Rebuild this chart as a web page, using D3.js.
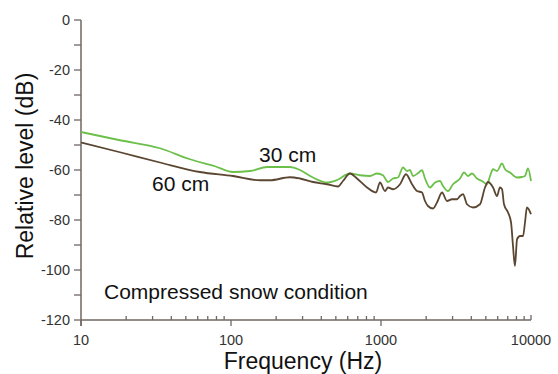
<!DOCTYPE html>
<html>
<head>
<meta charset="utf-8">
<script src="https://cdn.jsdelivr.net/npm/d3@7"></script>
<style>
  body { margin: 0; background: #fff; }
  svg { display: block; font-family: "Liberation Sans", Arial, sans-serif; }
</style>
</head>
<body>
<script>
// 30 cm curve (green)
const freq30 = [10, 18.2, 33.6, 53.3, 78.2, 103, 134, 174, 247, 288, 352, 437, 509, 621, 724, 845, 940, 1031,
  1114, 1202, 1298, 1402, 1490, 1561, 1634, 1765, 1876, 1965, 2122, 2291, 2474, 2591, 2798, 3020, 3365,
  3575, 3802, 4045, 4365, 4713, 5093, 5333, 5585, 5932, 6412, 6714, 7244, 8072, 8710, 9120, 9550, 10000];
const level30 = [-44.8, -48.1, -51.3, -55.7, -58.5, -60.8, -60.4, -58.8, -58.8, -60.0, -63.0, -65.0, -64.0, -61.4, -62.1, -62.4, -61.4, -62.1,
  -64.8, -63.4, -63.0, -59.0, -60.4, -60.0, -62.4, -61.3, -60.1, -63.4, -67.0, -65.0, -64.4, -66.4, -68.4, -65.7, -63.4,
  -61.0, -62.4, -61.4, -63.4, -64.4, -65.7, -62.4, -59.7, -60.4, -57.4, -59.7, -61.0, -63.0, -62.8, -62.4, -59.4, -64.4];

// 60 cm curve (brown)
const freq60 = [10, 18.2, 33.6, 62.1, 103, 156, 182, 247, 288, 352, 437, 517, 558, 621, 692, 807, 926, 985,
  1063, 1114, 1202, 1339, 1468, 1610, 1738, 1876, 1965, 2057, 2222, 2362, 2552, 2754, 2973, 3211, 3365, 3522,
  3744, 4105, 4571, 4936, 5164, 5585, 5932, 6209, 6412, 6607, 7031, 7362, 7586, 7816, 8072, 8453, 8851, 9120, 9397, 10000];
const level60 = [-49.0, -52.9, -57.0, -60.8, -62.4, -64.1, -64.1, -62.9, -63.4, -64.8, -65.7, -66.6, -64.4, -61.4, -63.4, -67.0, -69.0, -65.0,
  -68.4, -67.0, -67.7, -65.7, -61.7, -65.7, -68.4, -69.0, -72.4, -74.4, -75.4, -73.0, -69.0, -72.4, -71.7, -71.7, -70.4, -69.7,
  -73.7, -75.0, -73.7, -67.0, -64.8, -67.0, -70.4, -67.0, -67.7, -73.7, -77.0, -81.0, -90.4, -98.4, -87.7, -86.4, -86.4, -81.0, -75.0, -77.7];

const xTicks = [10, 100, 1000, 10000];
const yTicks = [0, -20, -40, -60, -80, -100, -120];

const width = 558, height = 374;
const axisColor = "#6f6762";

const svg = d3.select("body").append("svg")
  .attr("width", width)
  .attr("height", height);

const x = d3.scaleLog().domain([10, 10000]).range([81, 531]);
const y = d3.scaleLinear().domain([-120, 0]).range([320, 20]);

// y axis: labelled ticks every 20, minor every 10
const yMinor = d3.range(-110, 0, 20);
svg.append("g")
  .selectAll("line")
  .data(yTicks.concat(yMinor))
  .join("line")
  .attr("x1", 74).attr("x2", 81)
  .attr("y1", d => y(d)).attr("y2", d => y(d))
  .attr("stroke", axisColor).attr("stroke-width", 1.3);

svg.append("g")
  .selectAll("text")
  .data(yTicks)
  .join("text")
  .attr("x", 70)
  .attr("y", d => y(d))
  .attr("dy", "0.35em")
  .attr("text-anchor", "end")
  .attr("font-size", 14.5)
  .attr("fill", "#333")
  .text(d => d);

// x axis: decades labelled, minor ticks 2..9 pointing up
const xMinor = [];
[10, 100, 1000].forEach(dec => {
  for (let k = 2; k <= 9; k++) xMinor.push(dec * k);
});
svg.append("g")
  .selectAll("line")
  .data(xMinor)
  .join("line")
  .attr("x1", d => x(d)).attr("x2", d => x(d))
  .attr("y1", 316).attr("y2", 320)
  .attr("stroke", axisColor).attr("stroke-width", 1.3);

svg.append("g")
  .selectAll("line")
  .data(xTicks)
  .join("line")
  .attr("x1", d => x(d)).attr("x2", d => x(d))
  .attr("y1", d => d === 10000 ? 315 : 320).attr("y2", d => d === 10000 ? 320 : 326)
  .attr("stroke", axisColor).attr("stroke-width", 1.3);

svg.append("g")
  .selectAll("text")
  .data(xTicks)
  .join("text")
  .attr("x", d => x(d))
  .attr("y", 345)
  .attr("text-anchor", "middle")
  .attr("font-size", 14.5)
  .attr("fill", "#333")
  .text(d => d);

// axis lines
svg.append("line")
  .attr("x1", 81).attr("x2", 81).attr("y1", y(0)).attr("y2", 326)
  .attr("stroke", axisColor).attr("stroke-width", 1.5);
svg.append("line")
  .attr("x1", 81).attr("x2", 531).attr("y1", 320).attr("y2", 320)
  .attr("stroke", axisColor).attr("stroke-width", 1.5);

// curves
const line = d3.line()
  .x(d => x(d[0]))
  .y(d => y(d[1]))
  .curve(d3.curveMonotoneX);

svg.append("path")
  .datum(d3.zip(freq30, level30))
  .attr("fill", "none")
  .attr("stroke", "#6cc04a")
  .attr("stroke-width", 1.8)
  .attr("d", line);

svg.append("path")
  .datum(d3.zip(freq60, level60))
  .attr("fill", "none")
  .attr("stroke", "#5b4631")
  .attr("stroke-width", 1.8)
  .attr("d", line);

// labels
svg.append("text")
  .attr("x", 259).attr("y", 162)
  .attr("font-size", 21).attr("fill", "#111")
  .text("30 cm");
svg.append("text")
  .attr("x", 152).attr("y", 191)
  .attr("font-size", 21).attr("fill", "#111")
  .text("60 cm");
svg.append("text")
  .attr("x", 104).attr("y", 299)
  .attr("font-size", 21).attr("fill", "#111")
  .text("Compressed snow condition");

svg.append("text")
  .attr("x", 303).attr("y", 369)
  .attr("text-anchor", "middle")
  .attr("font-size", 23).attr("fill", "#111")
  .text("Frequency (Hz)");

svg.append("text")
  .attr("transform", "translate(33,166) rotate(-90)")
  .attr("text-anchor", "middle")
  .attr("font-size", 23).attr("fill", "#111")
  .text("Relative level (dB)");
</script>
</body>
</html>
